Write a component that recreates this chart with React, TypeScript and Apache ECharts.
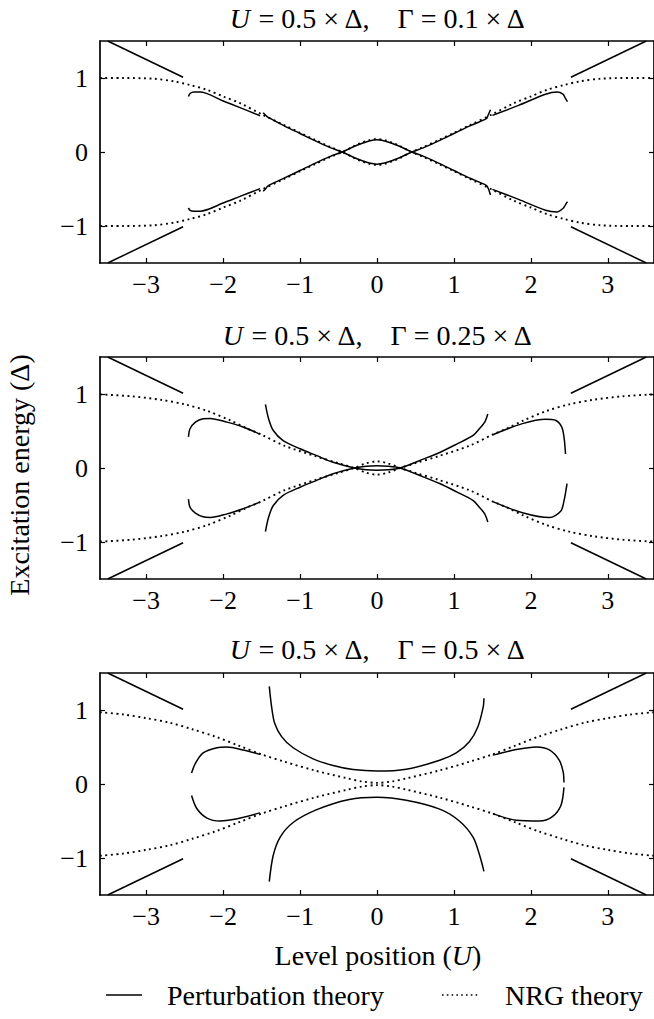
import React, { useEffect, useRef } from 'react';
import * as echarts from 'echarts';

const FONT = "'Liberation Serif', 'DejaVu Serif', serif";

const xTicks = [-3, -2, -1, 0, 1, 2, 3];
const yTicks = [-1, 0, 1];
const gammaLabels = ['0.1', '0.25', '0.5'];

// outer straight perturbation-theory segments (shared by all panels)
const outerLX = [-3.5, -2.52];
const outerLY = [1.5, 1.01];
const outerRX = [2.52, 3.5];
const outerRY = [1.01, 1.5];

// ---------- Panel 1 (Γ = 0.1Δ) ----------
const nrg1X = [-3.6, -3.3, -2.9, -2.64, -2.43, -2.21, -2.0, -1.78, -1.5, -1.2, -1.0, -0.8, -0.6, -0.45, -0.3, -0.2, -0.1, 0, 0.1, 0.2, 0.3, 0.45, 0.6, 0.8, 1.0, 1.2, 1.5, 1.78, 2.0, 2.21, 2.43, 2.64, 2.9, 3.3, 3.6];
const nrg1E = [1.0, 1.0, 0.99, 0.955, 0.905, 0.84, 0.75, 0.66, 0.51, 0.36, 0.26, 0.16, 0.065, 0.0, -0.08, -0.125, -0.16, -0.175, -0.16, -0.125, -0.08, 0.0, 0.065, 0.16, 0.26, 0.36, 0.51, 0.66, 0.75, 0.84, 0.905, 0.955, 0.99, 1.0, 1.0];
const pt1SideLX = [-2.45, -2.43, -2.38, -2.3, -2.0, -1.78, -1.52];
const pt1SideLUp = [0.75, 0.79, 0.81, 0.81, 0.69, 0.6, 0.49];
const pt1SideLLo = [-0.755, -0.79, -0.8, -0.8, -0.69, -0.6, -0.495];
const pt1SideRX = [1.5, 1.84, 2.19, 2.34, 2.42, 2.445, 2.475];
const pt1SideRUp = [0.495, 0.63, 0.78, 0.81, 0.78, 0.73, 0.68];
const pt1SideRLo = [-0.505, -0.64, -0.786, -0.81, -0.76, -0.72, -0.67];
const pt1MidX = [-1.48, -1.45, -1.42, -1.2, -1.0, -0.8, -0.6, -0.45, -0.3, -0.2, -0.1, 0, 0.1, 0.2, 0.3, 0.45, 0.6, 0.8, 1.0, 1.2, 1.42, 1.445, 1.475];
const pt1MidA = [0.53, 0.5, 0.47, 0.35, 0.25, 0.15, 0.055, 0, -0.075, -0.115, -0.15, -0.165, -0.15, -0.115, -0.075, 0, 0.055, 0.15, 0.25, 0.35, 0.45, 0.5, 0.57];
const pt1MidB = [-0.53, -0.5, -0.46, -0.35, -0.25, -0.15, -0.055, 0, 0.075, 0.115, 0.15, 0.165, 0.15, 0.115, 0.075, 0, -0.055, -0.15, -0.25, -0.35, -0.45, -0.49, -0.58];

// ---------- Panel 2 (Γ = 0.25Δ) ----------
const nrg2X = [-3.6, -3.2, -2.8, -2.5, -2.2, -1.9, -1.7, -1.5, -1.2, -0.8, -0.5, -0.3, -0.15, 0, 0.15, 0.3, 0.5, 0.8, 1.2, 1.5, 1.7, 1.9, 2.2, 2.5, 2.8, 3.2, 3.6];
const nrg2E = [0.995, 0.97, 0.92, 0.86, 0.77, 0.64, 0.54, 0.45, 0.3, 0.16, 0.065, 0, -0.06, -0.09, -0.06, 0, 0.065, 0.16, 0.3, 0.45, 0.54, 0.64, 0.77, 0.86, 0.92, 0.97, 0.995];
const pt2SideLX = [-2.45, -2.43, -2.36, -2.26, -2.17, -1.95, -1.74, -1.53];
const pt2SideLUp = [0.42, 0.53, 0.62, 0.665, 0.67, 0.62, 0.555, 0.46];
const pt2SideLLo = [-0.42, -0.53, -0.61, -0.66, -0.67, -0.62, -0.55, -0.465];
const pt2SideRUpX = [1.505, 1.89, 2.19, 2.32, 2.4, 2.43, 2.45];
const pt2SideRUp = [0.45, 0.6, 0.66, 0.645, 0.555, 0.42, 0.19];
const pt2SideRLoX = [1.505, 1.89, 2.24, 2.39, 2.43, 2.47];
const pt2SideRLo = [-0.455, -0.605, -0.67, -0.58, -0.445, -0.21];
const pt2MidX = [-1.45, -1.41, -1.35, -1.22, -1.0, -0.79, -0.57, -0.29, -0.14, 0, 0.14, 0.3, 0.6, 0.815, 1.03, 1.25, 1.33, 1.4, 1.44];
const pt2MidA = [0.86, 0.67, 0.51, 0.37, 0.26, 0.17, 0.077, 0, -0.025, -0.03, -0.025, 0, 0.12, 0.21, 0.32, 0.44, 0.53, 0.62, 0.73];
const pt2MidB = [-0.86, -0.67, -0.51, -0.37, -0.26, -0.17, -0.077, 0, 0.025, 0.03, 0.025, 0, -0.12, -0.21, -0.32, -0.44, -0.53, -0.62, -0.73];

// ---------- Panel 3 (Γ = 0.5Δ) ----------
const nrg3X = [-3.6, -3.3, -3.0, -2.7, -2.4, -2.1, -1.8, -1.5, -1.2, -0.8, -0.4, -0.2, 0, 0.2, 0.4, 0.8, 1.2, 1.5, 1.8, 2.1, 2.4, 2.7, 3.0, 3.3, 3.6];
const nrg3E = [0.97, 0.94, 0.89, 0.83, 0.74, 0.64, 0.52, 0.4, 0.3, 0.18, 0.08, 0.035, 0.015, 0.035, 0.08, 0.18, 0.3, 0.4, 0.52, 0.64, 0.74, 0.83, 0.89, 0.94, 0.97];
const pt3SideLUpX = [-2.41, -2.36, -2.26, -2.08, -1.95, -1.74, -1.52];
const pt3SideLUp = [0.15, 0.28, 0.42, 0.49, 0.5, 0.46, 0.4];
const pt3SideLLoX = [-2.41, -2.34, -2.21, -2.04, -1.87, -1.52];
const pt3SideLLo = [-0.155, -0.335, -0.46, -0.5, -0.48, -0.39];
const pt3SideRUpX = [1.505, 1.81, 2.07, 2.24, 2.37, 2.42, 2.43];
const pt3SideRUp = [0.39, 0.465, 0.5, 0.46, 0.32, 0.16, 0.02];
const pt3SideRLoX = [1.505, 1.81, 2.11, 2.28, 2.39, 2.43];
const pt3SideRLo = [-0.4, -0.49, -0.5, -0.44, -0.29, -0.045];
const pt3MidUpX = [-1.4, -1.37, -1.33, -1.24, -1.09, -0.83, -0.57, -0.31, 0, 0.38, 0.815, 1.03, 1.2, 1.31, 1.38, 1.39];
const pt3MidUp = [1.32, 1.045, 0.82, 0.64, 0.49, 0.34, 0.25, 0.195, 0.175, 0.2, 0.32, 0.42, 0.57, 0.77, 1.04, 1.16];
const pt3MidLoX = [-1.4, -1.35, -1.26, -1.09, -0.79, -0.36, 0, 0.38, 0.815, 1.07, 1.25, 1.33, 1.39];
const pt3MidLo = [-1.32, -0.97, -0.72, -0.52, -0.35, -0.21, -0.18, -0.22, -0.34, -0.5, -0.72, -0.95, -1.18];

const GRID_TOPS = [41, 357, 673];
const GRID_H = 222;
const GRID_LEFT = 100;
const GRID_W = 556;
const TITLE_Y = [18, 335, 649];

const fmt = (v: number) => (v < 0 ? '\u2212' + Math.abs(v) : String(v));

function mk(xs: number[], ys: number[], gi: number, dotted: boolean, smooth = true) {
  return {
    type: 'line',
    xAxisIndex: gi * 2,
    yAxisIndex: gi * 2,
    data: xs.map((x, i) => [x, ys[i]]),
    showSymbol: false,
    symbol: 'none',
    smooth: smooth ? 0.3 : false,
    silent: true,
    clip: true,
    lineStyle: dotted
      ? { color: '#000', width: 1.9, type: [1.9, 3.6] }
      : { color: '#000', width: 1.5, type: 'solid' },
  };
}

function neg(a: number[]) {
  return a.map((v) => -v);
}

function panelSeries(gi: number) {
  const s: any[] = [];
  s.push(mk(outerLX, outerLY, gi, false, false));
  s.push(mk(outerLX, neg(outerLY), gi, false, false));
  s.push(mk(outerRX, outerRY, gi, false, false));
  s.push(mk(outerRX, neg(outerRY), gi, false, false));
  if (gi === 0) {
    s.push(mk(nrg1X, nrg1E, gi, true));
    s.push(mk(nrg1X, neg(nrg1E), gi, true));
    s.push(mk(pt1SideLX, pt1SideLUp, gi, false));
    s.push(mk(pt1SideLX, pt1SideLLo, gi, false));
    s.push(mk(pt1SideRX, pt1SideRUp, gi, false));
    s.push(mk(pt1SideRX, pt1SideRLo, gi, false));
    s.push(mk(pt1MidX, pt1MidA, gi, false));
    s.push(mk(pt1MidX, pt1MidB, gi, false));
  } else if (gi === 1) {
    s.push(mk(nrg2X, nrg2E, gi, true));
    s.push(mk(nrg2X, neg(nrg2E), gi, true));
    s.push(mk(pt2SideLX, pt2SideLUp, gi, false));
    s.push(mk(pt2SideLX, pt2SideLLo, gi, false));
    s.push(mk(pt2SideRUpX, pt2SideRUp, gi, false));
    s.push(mk(pt2SideRLoX, pt2SideRLo, gi, false));
    s.push(mk(pt2MidX, pt2MidA, gi, false));
    s.push(mk(pt2MidX, pt2MidB, gi, false));
  } else {
    s.push(mk(nrg3X, nrg3E, gi, true));
    s.push(mk(nrg3X, neg(nrg3E), gi, true));
    s.push(mk(pt3SideLUpX, pt3SideLUp, gi, false));
    s.push(mk(pt3SideLLoX, pt3SideLLo, gi, false));
    s.push(mk(pt3SideRUpX, pt3SideRUp, gi, false));
    s.push(mk(pt3SideRLoX, pt3SideRLo, gi, false));
    s.push(mk(pt3MidUpX, pt3MidUp, gi, false));
    s.push(mk(pt3MidLoX, pt3MidLo, gi, false));
  }
  return s;
}

function buildOption() {
  const grids: any[] = [];
  const xAxes: any[] = [];
  const yAxes: any[] = [];
  const titles: any[] = [];
  let series: any[] = [];
  const axisLine = { show: true, onZero: false, lineStyle: { color: '#000', width: 1.7 } };
  for (let i = 0; i < 3; i++) {
    grids.push({ left: GRID_LEFT, top: GRID_TOPS[i], width: GRID_W, height: GRID_H, containLabel: false });
    const tickX = { show: true, inside: true, length: 5, customValues: xTicks, lineStyle: { color: '#000', width: 1.2 } };
    const tickY = { show: true, inside: true, length: 5, customValues: yTicks, lineStyle: { color: '#000', width: 1.2 } };
    xAxes.push({
      gridIndex: i, type: 'value', min: -3.6, max: 3.6, position: 'bottom',
      axisLine, axisTick: tickX, splitLine: { show: false },
      axisLabel: { customValues: xTicks, formatter: fmt, fontFamily: FONT, fontSize: 26, color: '#000', margin: 8 },
    });
    xAxes.push({
      gridIndex: i, type: 'value', min: -3.6, max: 3.6, position: 'top',
      axisLine, axisTick: tickX, splitLine: { show: false }, axisLabel: { show: false },
    });
    yAxes.push({
      gridIndex: i, type: 'value', min: -1.5, max: 1.5, position: 'left',
      axisLine, axisTick: tickY, splitLine: { show: false },
      axisLabel: { customValues: yTicks, formatter: fmt, fontFamily: FONT, fontSize: 26, color: '#000', margin: 12 },
    });
    yAxes.push({
      gridIndex: i, type: 'value', min: -1.5, max: 1.5, position: 'right',
      axisLine, axisTick: tickY, splitLine: { show: false }, axisLabel: { show: false },
    });
    titles.push({
      text: `{i|U} = 0.5 × Δ,    Γ = ${gammaLabels[i]} × Δ`,
      left: 378, top: TITLE_Y[i], textAlign: 'center', textVerticalAlign: 'middle', padding: 0,
      textStyle: {
        fontFamily: FONT, fontSize: 28, fontWeight: 'normal', color: '#000',
        rich: { i: { fontFamily: FONT, fontSize: 28, fontStyle: 'italic', color: '#000' } },
      },
    });
    series = series.concat(panelSeries(i));
  }
  titles.push({
    text: 'Level position ({i|U})',
    left: 378, top: 955, textAlign: 'center', textVerticalAlign: 'middle', padding: 0,
    textStyle: {
      fontFamily: FONT, fontSize: 28, fontWeight: 'normal', color: '#000',
      rich: { i: { fontFamily: FONT, fontSize: 28, fontStyle: 'italic', color: '#000' } },
    },
  });

  const graphic: any[] = [
    {
      type: 'text', x: 19, y: 475, rotation: Math.PI / 2,
      style: { text: 'Excitation energy (Δ)', fontFamily: FONT, fontSize: 28, fill: '#000', align: 'center', verticalAlign: 'middle' },
    },
    { type: 'line', shape: { x1: 106, y1: 995, x2: 142, y2: 995 }, style: { stroke: '#000', lineWidth: 1.5 } },
    {
      type: 'text', x: 167, y: 995,
      style: { text: 'Perturbation theory', fontFamily: FONT, fontSize: 28, fill: '#000', align: 'left', verticalAlign: 'middle' },
    },
    { type: 'line', shape: { x1: 442, y1: 995, x2: 479, y2: 995 }, style: { stroke: '#000', lineWidth: 1.6, lineDash: [1.6, 3.2] } },
    {
      type: 'text', x: 505, y: 995,
      style: { text: 'NRG theory', fontFamily: FONT, fontSize: 28, fill: '#000', align: 'left', verticalAlign: 'middle' },
    },
  ];

  return {
    animation: false,
    backgroundColor: '#fff',
    title: titles,
    grid: grids,
    xAxis: xAxes,
    yAxis: yAxes,
    series,
    graphic,
  };
}

export default function App() {
  const ref = useRef<HTMLDivElement>(null);
  useEffect(() => {
    document.body.style.margin = '0';
    const chart = echarts.init(ref.current as HTMLDivElement, null, { renderer: 'svg' });
    chart.setOption(buildOption() as any);
    return () => chart.dispose();
  }, []);
  return <div ref={ref} style={{ width: 654, height: 1019, overflow: 'hidden' }} />;
}
